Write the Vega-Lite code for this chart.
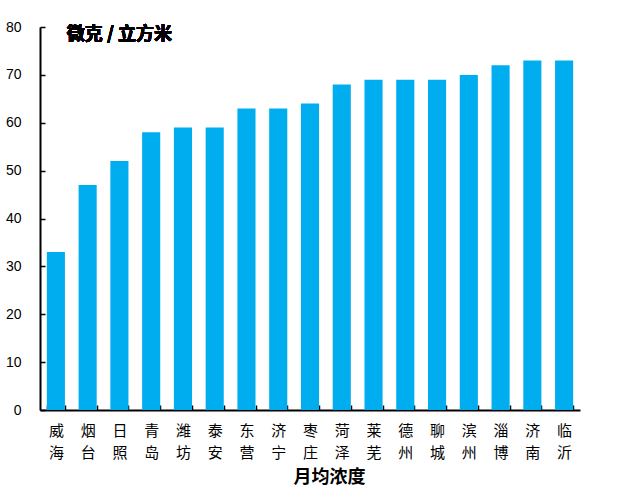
{
  "$schema": "https://vega.github.io/schema/vega-lite/v6.json",
  "width": 540,
  "height": 383,
  "autosize": "none",
  "padding": {"left": 40, "top": 27, "right": 37, "bottom": 92},
  "background": "white",
  "config": {"view": {"stroke": null}, "font": "Noto Sans CJK SC"},
  "data": {"values": [
    {"city": "威海", "v": 33},
    {"city": "烟台", "v": 47},
    {"city": "日照", "v": 52},
    {"city": "青岛", "v": 58},
    {"city": "潍坊", "v": 59},
    {"city": "泰安", "v": 59},
    {"city": "东营", "v": 63},
    {"city": "济宁", "v": 63},
    {"city": "枣庄", "v": 64},
    {"city": "菏泽", "v": 68},
    {"city": "莱芜", "v": 69},
    {"city": "德州", "v": 69},
    {"city": "聊城", "v": 69},
    {"city": "滨州", "v": 70},
    {"city": "淄博", "v": 72},
    {"city": "济南", "v": 73},
    {"city": "临沂", "v": 73}
  ]},
  "layer": [
    {
      "mark": {"type": "bar", "color": "#00AEEF"},
      "encoding": {
        "x": {
          "field": "city", "type": "nominal", "sort": null,
          "scale": {"paddingInner": 0.43, "paddingOuter": 0.215},
          "axis": {
            "title": "月均浓度",
            "titleFont": "Noto Sans CJK SC",
            "titleFontSize": 18,
            "titleFontWeight": "bold",
            "titleColor": "black",
            "titleAlign": "left",
            "titleAnchor": "start",
            "titleX": 253,
            "titleY": 67,
            "titleBaseline": "middle",
            "labelAngle": 0,
            "labelExpr": "[slice(datum.label,0,1), slice(datum.label,1,2)]",
            "labelLineHeight": 22,
            "labelFontSize": 15,
            "labelColor": "black",
            "labelPadding": 18,
            "labelFont": "Noto Sans CJK SC",
            "domainColor": "black",
            "domainWidth": 2,
            "ticks": true,
            "tickBand": "extent",
            "tickSize": -5,
            "tickColor": "black",
            "tickWidth": 1.5
          }
        },
        "y": {
          "field": "v", "type": "quantitative",
          "scale": {"domain": [0, 80], "nice": false},
          "axis": {
            "title": null,
            "values": [0, 10, 20, 30, 40, 50, 60, 70, 80],
            "grid": false,
            "labelFontSize": 14,
            "labelColor": "black",
            "labelFont": "Liberation Sans",
            "labelPadding": 24,
            "domainColor": "black",
            "domainWidth": 2,
            "tickSize": -5,
            "tickColor": "black",
            "tickWidth": 1.5
          }
        }
      }
    },
    {
      "mark": {"type": "text", "font": "Noto Sans CJK SC", "fontSize": 18, "fontWeight": "bold", "color": "black", "align": "center", "baseline": "middle"},
      "encoding": {
        "x": {"datum": "日照", "type": "nominal"},
        "y": {"datum": 78.3, "type": "quantitative"},
        "text": {"value": "微克 / 立方米"}
      }
    }
  ]
}
